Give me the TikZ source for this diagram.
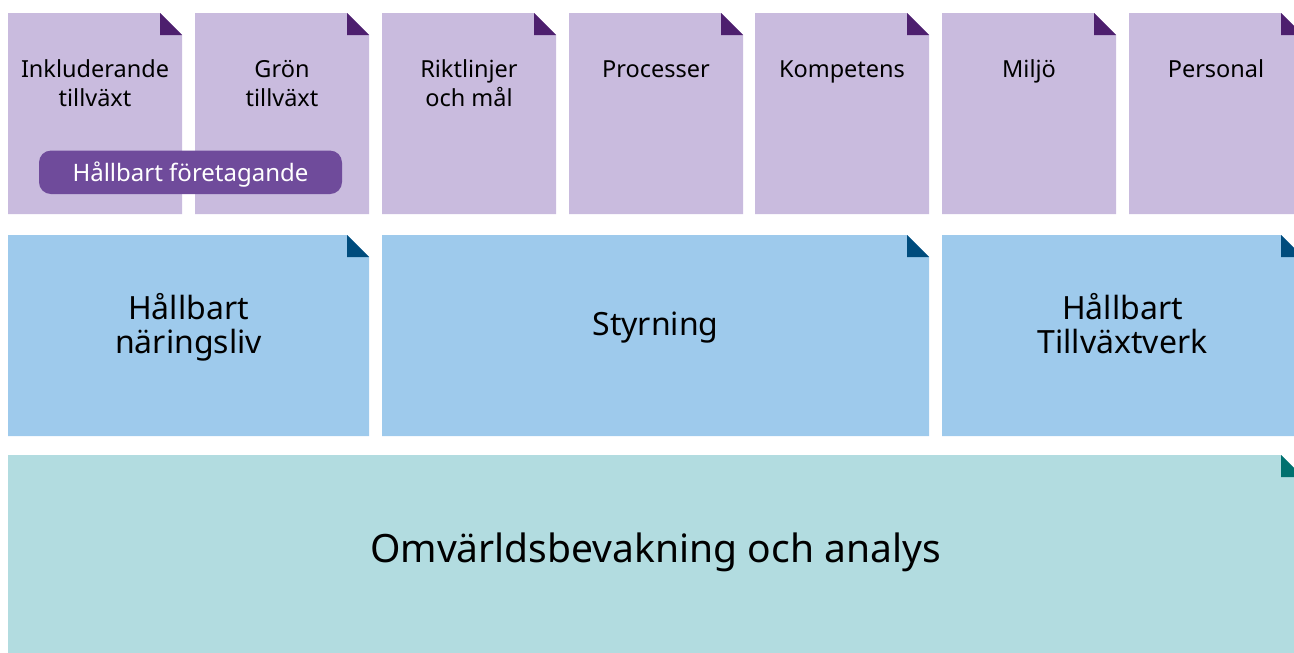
\documentclass[tikz,border=0pt]{standalone}
\usepackage{fontspec}
\setmainfont{Noto Sans}
\definecolor{plight}{HTML}{C9BBDE}
\definecolor{pdark}{HTML}{4D1F6E}
\definecolor{ppill}{HTML}{6F4B9B}
\definecolor{blight}{HTML}{9ECAEC}
\definecolor{bdark}{HTML}{004C7D}
\definecolor{tlight}{HTML}{B2DCE0}
\definecolor{tdark}{HTML}{00716F}
\newcommand\dogear[6]{%
  \fill[#5] (#1,#2) -- ({#3-22},#2) -- (#3,{#2+22}) -- (#3,#4) -- (#1,#4) -- cycle;
  \fill[#6] ({#3-22},#2) -- ({#3-22},{#2+22}) -- (#3,{#2+22}) -- cycle;}
\tikzset{
  ptext/.style={anchor=base, align=center, inner sep=0pt, text=black, font=\fontsize{23.5}{29.7}\selectfont},
  btext/.style={anchor=base, align=center, inner sep=0pt, text=black, font=\fontsize{32}{34}\selectfont},
  ttext/.style={anchor=base, align=center, inner sep=0pt, text=black, font=\fontsize{39}{47}\selectfont},
  pill/.style={fill=ppill, rounded corners=12pt, inner sep=0pt, minimum width=303pt, minimum height=43.5pt,
    text=white, text height=18.8pt, text depth=0pt, font=\fontsize{24}{29}\selectfont}
}
\begin{document}
\begin{tikzpicture}[x=1pt,y=-1pt]
\useasboundingbox (0,0) rectangle (1294,653);
\clip (0,0) rectangle (1294,653);
% purple row
\dogear{8}{13}{182}{214}{plight}{pdark}
\dogear{195}{13}{369}{214}{plight}{pdark}
\dogear{382}{13}{556}{214}{plight}{pdark}
\dogear{569}{13}{743}{214}{plight}{pdark}
\dogear{755}{13}{929}{214}{plight}{pdark}
\dogear{942}{13}{1116}{214}{plight}{pdark}
\dogear{1129}{13}{1303}{214}{plight}{pdark}
% blue row
\dogear{8}{235}{369}{436}{blight}{bdark}
\dogear{382}{235}{929}{436}{blight}{bdark}
\dogear{942}{235}{1303}{436}{blight}{bdark}
% teal row
\dogear{8}{455}{1303}{680}{tlight}{tdark}
% texts (base anchor = baseline of the last line)
\node[ptext] (p1) at (95,106.7) {Inkluderande\\tillväxt};
\node[ptext] (p2) at (282,106.7) {Grön\\tillväxt};
\node[ptext] (p3) at (469,106.7) {Riktlinjer\\och mål};
\node[ptext] (p4) at (656,77) {Processer};
\node[ptext] (p5) at (842,77) {Kompetens};
\node[ptext] (p6) at (1029,77) {Miljö};
\node[ptext] (p7) at (1216,77) {Personal};
\node[pill] (hf) at (190.5,172.3) {Hållbart företagande};
\node[btext] (b1) at (188.5,353) {Hållbart\\näringsliv};
\node[btext] (b2) at (655.5,335) {Styrning};
\node[btext] (b3) at (1122.5,353) {Hållbart\\Tillväxtverk};
\node[ttext] (t1) at (655.5,562) {Omvärldsbevakning och analys};
\end{tikzpicture}
\end{document}
